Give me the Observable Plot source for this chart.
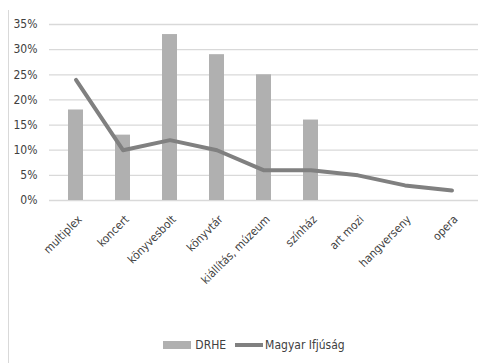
<!DOCTYPE html>
<html><head><meta charset="utf-8">
<script src="https://cdn.jsdelivr.net/npm/d3@7"></script>
<script src="https://cdn.jsdelivr.net/npm/@observablehq/plot@0.6"></script>
<style>
body{margin:0;background:#fff;}
#wrap{position:relative;width:478px;height:363px;overflow:hidden;font-family:"Liberation Sans Narrow","Arial Narrow","DejaVu Sans Condensed",sans-serif;}
#frame{position:absolute;left:8px;top:10px;width:1px;height:353px;background:#d9d9d9;}
#chart{position:absolute;left:0;top:0;}
#legend{position:absolute;left:30px;top:338px;width:448px;display:flex;justify-content:center;align-items:center;font-size:12px;color:#404040;}
.sw{display:inline-block;}
</style>
</head><body>
<div id="wrap"><div id="frame"></div><div id="chart"></div>
<div id="legend">
<span class="sw" style="width:28px;height:8px;background:#b0b0b0;margin-right:4px"></span><span>DRHE</span>
<span class="sw" style="width:28px;height:4px;background:#808080;margin-left:9px;margin-right:2px"></span><span>Magyar Ifjúság</span>
</div></div>
<script>
const categories = ["multiplex","koncert","könyvesbolt","könyvtár","kiállítás, múzeum","színház","art mozi","hangverseny","opera"];
const drhe = [18,13,33,29,25,16,0,0,0];
const magyar = [24,10,12,10,6,6,5,3,2];
const yTicks = [0,5,10,15,20,25,30,35];

const barData = categories.map((c,i)=>({cat:c, v:drhe[i]})).filter(d=>d.v>0);
const lineData = categories.map((c,i)=>({cat:c, v:magyar[i]}));

const plot = Plot.plot({
  width:478, height:336,
  marginLeft:49, marginRight:0, marginTop:24, marginBottom:136,
  style:{fontFamily:'"Liberation Sans Narrow","Arial Narrow","DejaVu Sans Condensed",sans-serif', fontSize:"11px", color:"#404040", background:"transparent"},
  x:{type:"band", domain:categories, paddingInner:0.68, paddingOuter:0.34, align:0.5, label:null},
  y:{domain:[0,35], label:null},
  marks:[
    Plot.ruleY(yTicks, {stroke:"#d9d9d9", strokeWidth:1.3}),
    Plot.axisY(yTicks, {tickSize:0, tickPadding:12, tickFormat:d=>d+"%", fontSize:12}),
    Plot.axisX({tickSize:0, tickRotate:-45, tickPadding:17, fontSize:11.5, label:null, dx:4}),
    Plot.barY(barData, {x:"cat", y:"v", fill:"#b0b0b0"}),
    Plot.lineY(lineData, {x:"cat", y:"v", stroke:"#808080", strokeWidth:4, strokeLinejoin:"round"})
  ]
});
document.getElementById("chart").appendChild(plot);
</script>
</body></html>
